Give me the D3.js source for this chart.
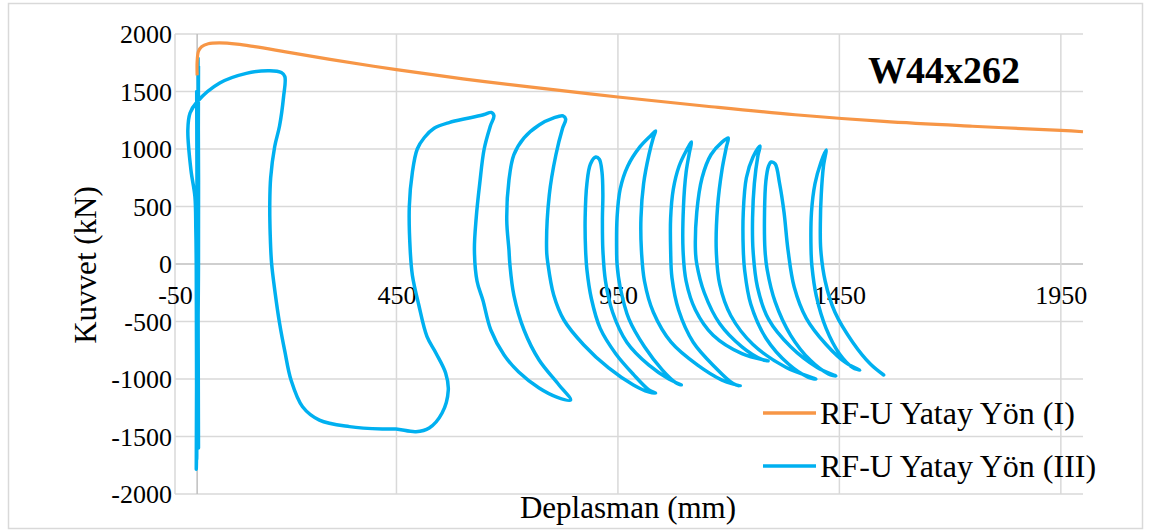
<!DOCTYPE html>
<html><head><meta charset="utf-8">
<script src="https://cdn.jsdelivr.net/npm/d3@7"></script>
<style>body{margin:0;background:#fff}svg{display:block}text{font-family:"Liberation Serif","Times New Roman",serif;fill:#000}</style>
</head><body><svg id="c" width="1152" height="532"></svg>
<script>
const xTicks = [-50, 450, 950, 1450, 1950];
const yTicks = [-2000, -1500, -1000, -500, 0, 500, 1000, 1500, 2000];
const seriesNames = ["RF-U Yatay Yön (I)", "RF-U Yatay Yön (III)"];
const chartTitle = "W44x262";
const xTitle = "Deplasman (mm)";
const yTitle = "Kuvvet (kN)";

const seriesI = [[0,1640],[0,1760],[3,1850],[10,1890],[25,1915],[50,1922],[90,1912],[130,1890],[200,1845],[300,1780],[450,1690],[600,1610],[750,1540],[950,1452],[1150,1372],[1350,1298],[1550,1240],[1750,1198],[1950,1162],[2000,1150]];

const seriesIII = [
[0,0],[2,1790],[3,0],[-2,-1785],[0,0],[3,1720],[2,0],[3,-1600],[1,0],[-1,1500],[0,0],[-1,-1700],[-2,0],[-3,300],[-5,585],[-14,817],[-21,1165],[-16,1313],[0,1411],[51,1574],[111,1658],[164,1681],[190,1665],[198,1629],
[195,1450],[186,1200],[175,1020],[166,750],[164,530],[165,250],[168,9],[176,-250],[186,-513],[198,-760],[212,-1009],[238,-1241],[276,-1357],[344,-1414],[418,-1435],[449,-1435],[494,-1458],[524,-1426],[553,-1296],[567,-1096],[561,-948],[539,-774],[519,-632],[500,-350],[486,-100],[481,122],[479,500],[486,800],[497,1000],[513,1100],[535,1180],[569,1230],[614,1270],[648,1300],[664,1318],[670,1290],
[662,1200],[648,1000],[638,700],[630,400],[626,122],[632,-150],[645,-313],[663,-574],[693,-791],[726,-939],[772,-1078],[812,-1157],[843,-1183],
[817,-1052],[772,-835],[738,-574],[715,-270],[706,0],[704,122],[699,383],[704,730],[715,948],[738,1096],[772,1209],[805,1270],[826,1288],[832,1260],
[825,1180],[810,950],[795,600],[789,122],[792,0],[805,-270],[828,-487],[873,-704],[929,-904],[985,-1052],[1019,-1112],[1035,-1122],
[1020,-1095],[985,-960],[945,-780],[910,-560],[890,-300],[880,-50],[877,122],[876,400],[880,700],[888,870],[900,930],[908,910],
[914,800],[916,600],[915,400],[916,122],[922,-150],[938,-420],[970,-680],[1020,-880],[1065,-1000],[1093,-1052],
[1080,-1030],[1050,-920],[1010,-720],[975,-480],[955,-200],[948,0],[947,122],[948,400],[955,650],[972,850],[1000,1020],[1025,1120],[1035,1157],
[1030,1100],[1020,950],[1008,700],[1002,400],[1003,122],[1010,-150],[1030,-420],[1070,-680],[1130,-880],[1185,-1010],[1226,-1061],
[1210,-1040],[1170,-900],[1120,-680],[1087,-400],[1072,-120],[1069,122],[1069,400],[1075,650],[1088,850],[1105,990],[1116,1061],
[1112,980],[1104,800],[1098,500],[1097,122],[1104,-150],[1125,-400],[1165,-620],[1230,-780],[1289,-843],
[1275,-830],[1230,-720],[1180,-520],[1145,-250],[1128,0],[1125,122],[1128,450],[1140,750],[1160,950],[1185,1060],[1199,1096],
[1195,1020],[1185,820],[1175,500],[1172,122],[1180,-180],[1205,-450],[1255,-700],[1330,-900],[1397,-1000],
[1380,-985],[1335,-870],[1285,-650],[1250,-350],[1236,-50],[1233,122],[1233,450],[1240,750],[1255,930],[1271,1026],
[1266,940],[1258,700],[1254,400],[1255,122],[1265,-200],[1290,-480],[1340,-720],[1400,-900],[1442,-974],
[1425,-955],[1385,-840],[1340,-620],[1305,-330],[1287,-50],[1282,122],[1281,450],[1284,720],[1290,850],[1296,887],
[1305,870],[1315,700],[1325,450],[1334,122],[1348,-200],[1375,-470],[1420,-700],[1465,-860],[1496,-922],
[1480,-900],[1450,-780],[1420,-560],[1398,-280],[1388,-20],[1386,122],[1387,450],[1395,700],[1408,880],[1420,991],
[1414,850],[1409,600],[1407,350],[1408,122],[1418,-150],[1440,-420],[1480,-680],[1520,-870],[1550,-965]
];

const colors = ["#F79646", "#00B0F0"];
const svg = d3.select("#c");
svg.append("rect").attr("x",8.5).attr("y",3.5).attr("width",1134).attr("height",525)
  .attr("fill","#fff").attr("stroke","#d9d9d9").attr("stroke-width",1.5);

const x = d3.scaleLinear().domain([-50, 2000]).range([175, 1083]);
const y = d3.scaleLinear().domain([-2000, 2000]).range([494, 34]);
const fmt = d => String(d);

const g = svg.append("g");
g.selectAll("line.hg").data(yTicks).join("line").attr("class","hg")
  .attr("x1", x(-50)).attr("x2", x(2000)).attr("y1", d=>y(d)).attr("y2", d=>y(d))
  .attr("stroke", d=> d===0 ? "#bfbfbf" : "#d9d9d9").attr("stroke-width",1.5);
g.selectAll("line.vg").data(xTicks).join("line").attr("class","vg")
  .attr("x1", d=>x(d)).attr("x2", d=>x(d)).attr("y1", y(2000)).attr("y2", y(-2000))
  .attr("stroke","#d9d9d9").attr("stroke-width",1.5);
g.append("line").attr("x1",x(0)).attr("x2",x(0)).attr("y1",y(2000)).attr("y2",y(-2000))
  .attr("stroke","#bfbfbf").attr("stroke-width",1.5);

const yAxis = d3.axisLeft(y).tickValues(yTicks).tickFormat(fmt).tickSize(0).tickPadding(0);
const ya = svg.append("g").attr("transform",`translate(172,0)`).call(yAxis);
ya.select(".domain").remove();
ya.attr("font-family",null).attr("font-size",null);
ya.selectAll("text").attr("font-size",26).attr("font-family","Liberation Serif").attr("fill","#000").attr("dy","0.34em");

const xAxis = d3.axisBottom(x).tickValues(xTicks).tickFormat(fmt).tickSize(0).tickPadding(0);
const xa = svg.append("g").attr("transform",`translate(0,${y(0)})`).call(xAxis);
xa.select(".domain").remove();
xa.attr("font-family",null).attr("font-size",null);
xa.selectAll("text").attr("font-size",26).attr("font-family","Liberation Serif").attr("fill","#000").attr("dy",null).attr("y",40);

const line = d3.line().x(d=>x(d[0])).y(d=>y(d[1])).curve(d3.curveCatmullRom.alpha(0.5));
svg.append("path").datum(seriesIII).attr("d",line).attr("fill","none").attr("stroke",colors[1]).attr("stroke-width",3.5).attr("stroke-linejoin","round").attr("stroke-linecap","round");
svg.append("path").datum(seriesI).attr("d",line).attr("fill","none").attr("stroke",colors[0]).attr("stroke-width",3.2).attr("stroke-linejoin","round");

svg.append("text").attr("x",868).attr("y",83).attr("font-size",38).attr("font-weight","bold").text(chartTitle);
svg.append("text").attr("x",628).attr("y",518).attr("text-anchor","middle").attr("font-size",31).text(xTitle);
svg.append("text").attr("transform","translate(96,265) rotate(-90)").attr("text-anchor","middle").attr("font-size",31).text(yTitle);

const lg = svg.append("g");
seriesNames.forEach((n,i)=>{
  const yy = 413 + i*53;
  lg.append("line").attr("x1",763).attr("x2",816).attr("y1",yy).attr("y2",yy).attr("stroke",colors[i]).attr("stroke-width",3.5);
  lg.append("text").attr("x",820).attr("y",yy+11).attr("font-size",32).text(n);
});
</script></body></html>
